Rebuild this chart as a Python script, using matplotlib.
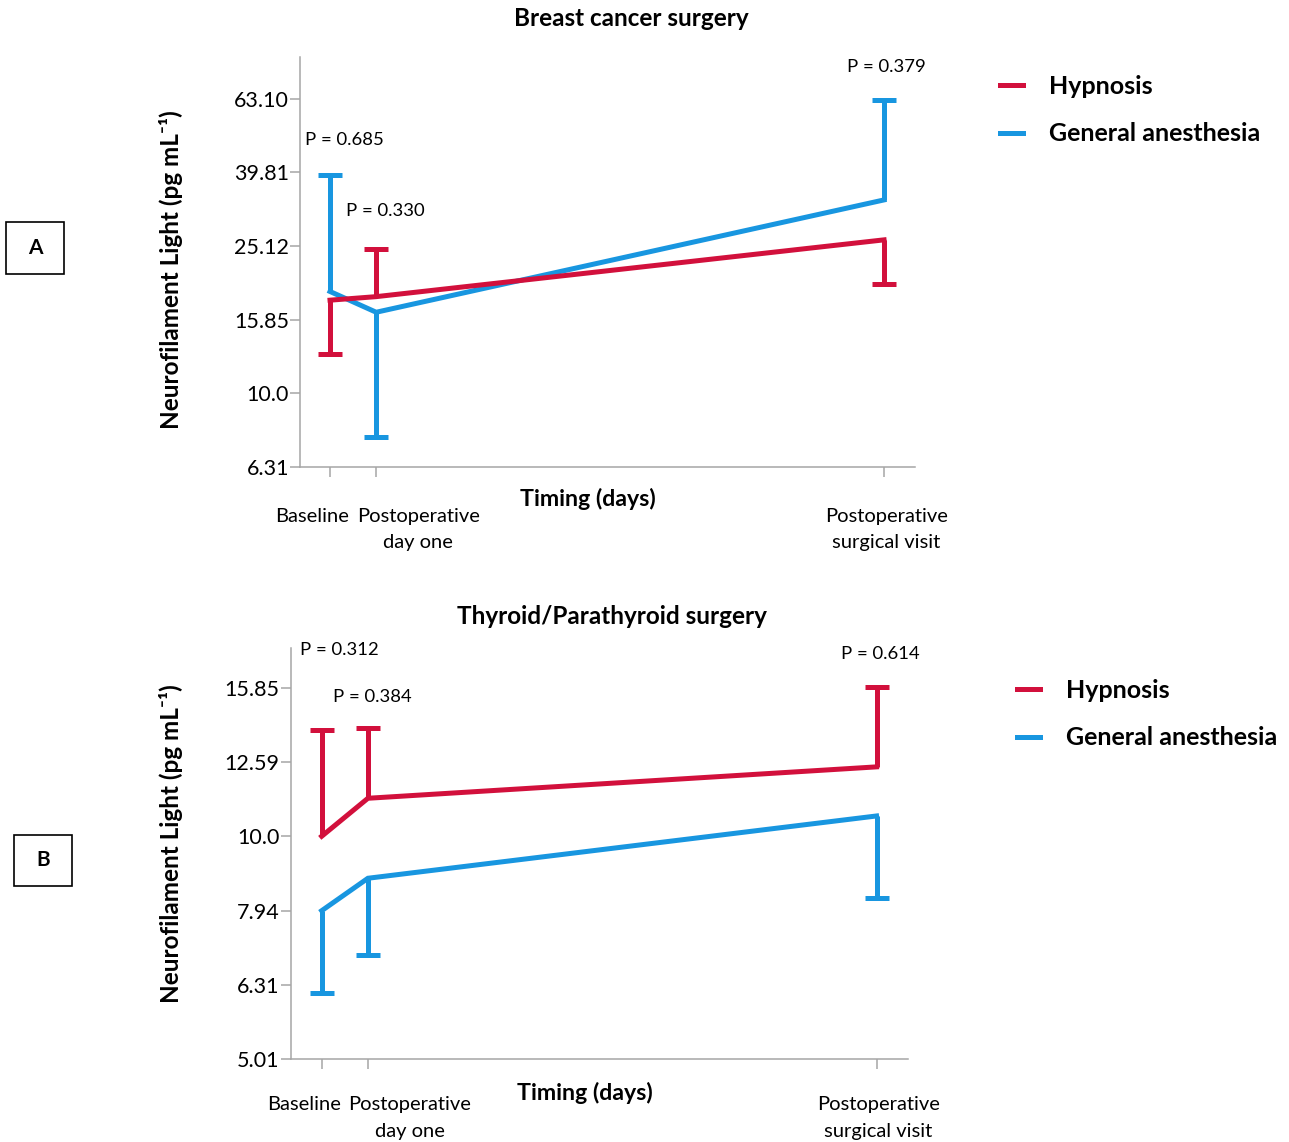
import matplotlib
matplotlib.use("Agg")
import matplotlib.pyplot as plt
from matplotlib.ticker import NullLocator
from matplotlib.patches import Rectangle

plt.rcParams['font.family'] = ['Lato', 'DejaVu Sans']

# timing in days (x positions)
days = [0, 1, 12]
tick_labels = ["Baseline", "Postoperative\nday one", "Postoperative\nsurgical visit"]
series_names = ["Hypnosis", "General anesthesia"]

# Panel A - breast cancer surgery (pg/mL, log scale)
a_hyp_mean = [17.9, 18.3, 26.1]
a_hyp_err = [12.8, 24.6, 19.8]      # end of the one-sided error bar
a_ga_mean = [18.9, 16.6, 33.5]
a_ga_err = [39.2, 7.6, 62.5]
a_ticks = [6.31, 10.0, 15.85, 25.12, 39.81, 63.10]
a_tick_labels = ["6.31", "10.0", "15.85", "25.12", "39.81", "63.10"]
a_pvals = ["P = 0.685", "P = 0.330", "P = 0.379"]

# Panel B - thyroid/parathyroid surgery
b_hyp_mean = [10.0, 11.25, 12.4]
b_hyp_err = [13.9, 14.0, 15.9]
b_ga_mean = [7.94, 8.78, 10.65]
b_ga_err = [6.16, 6.92, 8.27]
b_ticks = [5.01, 6.31, 7.94, 10.0, 12.59, 15.85]
b_tick_labels = ["5.01", "6.31", "7.94", "10.0", "12.59", "15.85"]
b_pvals = ["P = 0.312", "P = 0.384", "P = 0.614"]

RED = "#d2103c"
BLUE = "#1896e0"
GRAY = "#a6a6a6"
PX = 0.72  # points per pixel at dpi 100

W, H = 1289, 1142
fig = plt.figure(figsize=(W / 100, H / 100), dpi=100)


def fx(x):
    return x / W


def fy(y):
    return 1 - y / H


def draw_series(ax, mean, err, color):
    ax.plot(days, mean, color=color, lw=5 * PX, solid_joinstyle="miter", zorder=3)
    ax.vlines(days, mean, err, color=color, lw=5 * PX, zorder=3)
    ax.plot(days, err, ls="none", marker="_", ms=24 * PX, mew=5 * PX, color=color, zorder=3)


def panel(rect, ylim, xlim, ticks, labels, hyp_mean, hyp_err, ga_mean, ga_err,
          pvals, p_anchor, p_offsets, tick_dy, xlabel_xy, title, title_xy,
          ylabel_xy, leg_xy, box):
    ax = fig.add_axes(rect)
    ax.set_yscale("log")
    ax.set_ylim(*ylim)
    ax.set_xlim(*xlim)
    draw_series(ax, ga_mean, ga_err, BLUE)
    draw_series(ax, hyp_mean, hyp_err, RED)

    ax.set_yticks(ticks)
    ax.set_yticklabels(labels)
    ax.yaxis.set_minor_locator(NullLocator())
    ax.set_xticks(days)
    ax.set_xticklabels([])
    for s in ["top", "right"]:
        ax.spines[s].set_visible(False)
    for s in ["left", "bottom"]:
        ax.spines[s].set_color(GRAY)
        ax.spines[s].set_linewidth(1.1)
    ax.tick_params(axis="both", colors=GRAY, length=7, width=1.1, labelcolor="black",
                   labelsize=15.5, pad=1)

    # tick labels, nudged sideways as in the figure
    shifts = [-18, 42, 2]
    for d, lab, dx in zip(days, tick_labels, shifts):
        ax.annotate(lab, xy=(d, 0), xycoords=("data", "axes fraction"),
                    xytext=(dx * PX, -tick_dy * PX), textcoords="offset points",
                    ha="center", va="top", fontsize=14.5, linespacing=1.67)

    fig.text(fx(xlabel_xy[0]), fy(xlabel_xy[1]), "Timing (days)", ha="center", va="center",
             fontsize=16.7, fontweight="bold")
    fig.text(fx(title_xy[0]), fy(title_xy[1]), title, ha="center", va="center",
             fontsize=17.5, fontweight="bold")
    fig.text(fx(ylabel_xy[0]), fy(ylabel_xy[1]), "Neurofilament Light (pg mL⁻¹)",
             rotation=90, ha="center", va="center", fontsize=17.5, fontweight="bold")

    # p-values above selected error bars
    for lab, (i, which), (dx, dy) in zip(pvals, p_anchor, p_offsets):
        yv = {"hyp": hyp_err, "ga": ga_err}[which][i]
        ax.annotate(lab, xy=(days[i], yv), xytext=(dx * PX, dy * PX),
                    textcoords="offset points", ha="center", va="center", fontsize=13.3)

    h1, = ax.plot([], [], color=RED, lw=5 * PX)
    h2, = ax.plot([], [], color=BLUE, lw=5 * PX)
    fig.legend([h1, h2], series_names, loc="upper left",
               bbox_to_anchor=(fx(leg_xy[0]), fy(leg_xy[1])), frameon=False,
               prop={"weight": "bold", "size": 18}, handlelength=0.9,
               handletextpad=1.05, labelspacing=0.97, borderpad=0, borderaxespad=0)

    # panel letter box
    x0, y0, x1, y1, letter = box
    fig.patches.append(Rectangle((fx(x0), fy(y1)), fx(x1 - x0), (y1 - y0) / H,
                                 transform=fig.transFigure, fill=False, ec="black", lw=1.2))
    fig.text(fx((x0 + x1) / 2), fy((y0 + y1) / 2), letter, ha="center", va="center",
             fontsize=15, fontweight="bold")
    return ax


panel([fx(300), fy(467), fx(615), 410 / H], (10 ** 0.8, 10 ** 1.913), (-0.65, 12.67),
      a_ticks, a_tick_labels, a_hyp_mean, a_hyp_err, a_ga_mean, a_ga_err,
      a_pvals, [(0, "ga"), (1, "hyp"), (2, "ga")], [(14, 35), (9, 38), (2, 33)],
      41, (588, 499), "Breast cancer surgery", (631, 19), (171, 270),
      (1000, 75), (6, 222, 64, 274, "A"))

panel([fx(290.7), fy(1059.3), fx(617.3), 411.3 / H], (10 ** 0.7, 10 ** 1.2534), (-0.67, 12.68),
      b_ticks, b_tick_labels, b_hyp_mean, b_hyp_err, b_ga_mean, b_ga_err,
      b_pvals, [(0, "hyp"), (1, "hyp"), (2, "hyp")], [(18, 80), (4, 31), (4, 33)],
      37, (585, 1093), "Thyroid/Parathyroid surgery", (612, 616), (171, 844),
      (1017, 679), (14, 835, 72, 886, "B"))

fig.savefig("out.png", dpi=100)
